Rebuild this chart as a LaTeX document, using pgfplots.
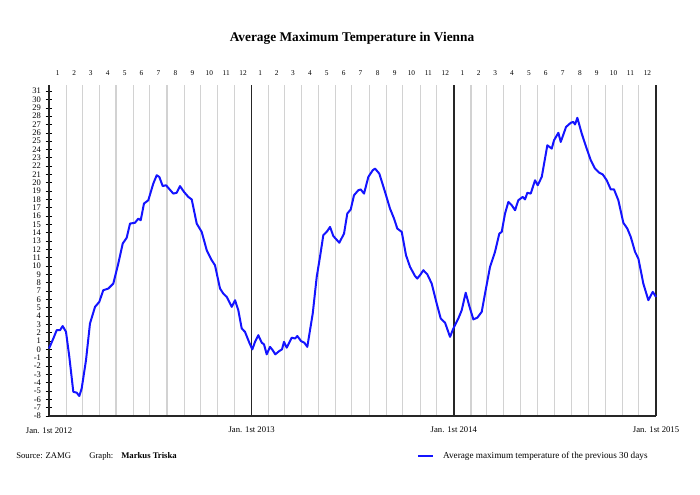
\documentclass[border=0pt]{standalone}
\usepackage{pgfplots}
\pgfplotsset{compat=1.18}
\usepackage{fontspec}
\setmainfont{Liberation Serif}
\definecolor{lineblue}{RGB}{20,20,255}
\begin{document}
\begin{tikzpicture}[x=0.75pt,y=0.75pt]
\path[use as bounding box] (0,0) rectangle (700,495);
\begin{axis}[
  at={(36.75pt,59.25pt)}, anchor=south west,
  scale only axis, width=455.25pt, height=248.4pt,
  xmin=0, xmax=1096, ymin=-8, ymax=31.76,
  axis lines=left,
  axis line style={-, black!85, line width=1.1pt},
  ytick={-8,-7,...,31},
  tick align=center,
  major tick length=5pt,
  ytick style={black, line width=0.4pt},
  yticklabel style={font=\fontsize{6.4}{7}\selectfont},
  /pgf/number format/assume math mode=true,
  xtick={0,31,60,91,121,152,182,213,244,274,305,335,366,397,425,456,486,517,547,578,609,639,670,700,731,762,790,821,851,882,912,943,974,1004,1035,1065,1096},
  xticklabels={},
  xtick style={draw=none},
  xmajorgrids,
  major x grid style={gray!35, line width=0.8pt},
  extra x ticks={366,731,1096},
  extra x tick labels={Jan. 1st 2013,Jan. 1st 2014,Jan. 1st 2015},
  extra x tick style={xmajorgrids=true, major x grid style={black!85, line width=1.1pt}, tick style={draw=none},
     xticklabel style={font=\fontsize{6.5}{7}\selectfont, yshift=-2pt}},
  legend style={at={(0.606,-0.121)}, anchor=west, draw=none, fill=none,
     font=\fontsize{6.9}{7}\selectfont, inner sep=0pt},
  legend image code/.code={\draw[#1, line width=1.5pt] (0pt,0pt) -- (11pt,0pt);},
  legend cell align=left,
  clip=false,
]
\addplot[lineblue, line width=1.5pt, line join=round] table {
x y
0 0.1
7.8 1.3
13.9 2.3
19.9 2.3
24.7 2.8
30.7 2.1
36.7 -0.9
43.9 -5.1
50.0 -5.2
54.7 -5.6
59.0 -4.7
66.8 -1.3
74.0 3.1
83.1 5.1
90.8 5.7
98.0 7.1
107.1 7.3
116.1 7.9
125.1 10.3
133.1 12.7
140.3 13.4
146.3 15.1
155.3 15.2
161.3 15.7
165.6 15.5
171.5 17.5
179.3 17.9
188.3 19.9
194.5 20.9
199.2 20.7
205.3 19.6
211.3 19.7
224.4 18.7
230.6 18.8
236.5 19.6
243.8 18.9
251.5 18.3
257.7 18.0
266.7 15.1
275.7 14.1
284.8 11.9
293.8 10.7
299.7 10.1
308.8 7.3
314.7 6.7
320.9 6.3
329.9 5.1
335.9 5.9
341.8 4.7
348.0 2.5
353.9 2.1
361.7 0.8
367.1 0.0
372.0 0.9
377.9 1.7
384.1 0.8
388.2 0.6
393.1 -0.6
399.1 0.3
403.9 -0.1
408.6 -0.6
415.8 -0.2
420.7 0.0
424.3 0.9
429.2 0.2
438.2 1.4
444.2 1.3
448.4 1.6
455.0 1.0
461.0 0.8
466.4 0.3
476.2 4.3
483.4 8.7
489.3 11.1
495.3 13.7
502.5 14.2
507.4 14.7
513.4 13.6
524.2 12.8
532.7 13.9
538.6 16.3
544.8 16.8
550.7 18.5
558.5 19.1
562.8 19.2
568.8 18.7
576.6 20.7
584.5 21.5
588.7 21.7
596.4 21.1
606.7 18.9
615.7 16.9
623.0 15.7
628.9 14.5
636.9 14.1
644.6 11.3
651.9 9.9
660.9 8.8
665.0 8.5
669.9 8.9
675.9 9.5
683.1 9.0
691.0 7.9
700.0 5.5
707.3 3.7
715.1 3.2
724.1 1.5
730.1 2.5
739.1 3.7
745.2 4.7
752.4 6.8
758.9 5.2
766.2 3.6
773.4 3.8
781.3 4.5
787.3 6.7
796.3 9.9
805.3 11.7
813.1 13.9
817.4 14.1
823.4 16.3
829.4 17.7
835.5 17.3
841.5 16.7
847.4 17.9
855.4 18.3
859.5 18.0
863.7 18.8
869.8 18.7
877.6 20.3
882.4 19.7
889.7 20.7
899.8 24.5
907.7 24.1
911.9 25.1
919.7 26.0
924.0 24.9
933.6 26.7
942.1 27.2
946.7 27.3
949.8 27.0
954.0 27.8
961.9 25.9
970.9 24.1
978.2 22.7
985.9 21.7
993.7 21.2
999.8 21.0
1007.0 20.3
1014.3 19.2
1020.2 19.2
1028.0 17.9
1037.0 15.2
1044.2 14.5
1050.4 13.5
1058.2 11.7
1064.2 10.9
1073.1 7.9
1082.2 5.9
1090.1 6.9
1096 6.3
};
\addlegendentry{\hspace{5pt}Average maximum temperature of the previous 30 days}
\end{axis}
\begin{axis}[
  at={(36.75pt,59.25pt)}, anchor=south west,
  scale only axis, width=455.25pt, height=248.4pt,
  xmin=0, xmax=1096, ymin=-8, ymax=31.76,
  axis x line*=top, axis y line=none,
  axis line style={draw=none},
  xtick={15.5,45.5,75.5,106,136.5,167,197.5,228.5,259,289.5,320,350.5,381.5,411,440.5,471,501.5,532,562.5,593.5,624,654.5,685,715.5,746.5,776,805.5,836,866.5,897,927.5,958.5,989,1019.5,1050,1080.5},
  xticklabels={1,2,3,4,5,6,7,8,9,10,11,12,1,2,3,4,5,6,7,8,9,10,11,12,1,2,3,4,5,6,7,8,9,10,11,12},
  xtick style={draw=none},
  xticklabel style={font=\fontsize{5.5}{6}\selectfont, yshift=3.5pt},
]
\end{axis}
\node[font=\fontsize{6.5}{7}\selectfont, inner sep=0pt] at (49,64.5) {Jan. 1st 2012};
\node[font=\fontsize{10}{12}\selectfont\bfseries] at (352,457) {Average Maximum Temperature in Vienna};
\node[anchor=west, font=\fontsize{6.5}{7}\selectfont, inner sep=0pt] at (16,39) {Source: ZAMG};
\node[anchor=west, font=\fontsize{6.5}{7}\selectfont, inner sep=0pt] at (89,39) {Graph:};
\node[anchor=west, font=\fontsize{6.5}{7}\selectfont\bfseries, inner sep=0pt] at (121,39) {Markus Triska};
\end{tikzpicture}
\end{document}
